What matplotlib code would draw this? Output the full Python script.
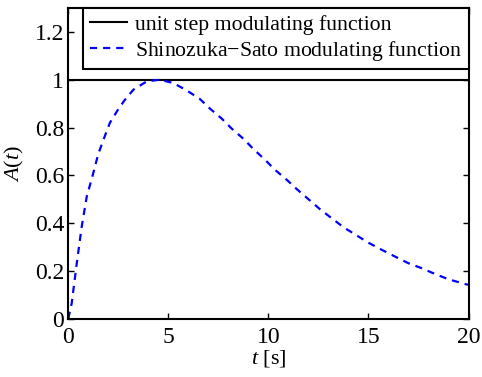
import numpy as np
import matplotlib
matplotlib.use("Agg")
import matplotlib.pyplot as plt
from matplotlib.ticker import FuncFormatter

plt.rcParams['font.family'] = ['Liberation Serif', 'DejaVu Serif']
plt.rcParams['mathtext.fontset'] = 'custom'
plt.rcParams['mathtext.rm'] = 'Liberation Serif'
plt.rcParams['mathtext.it'] = 'Liberation Serif:italic'

# unit step modulating function
t_step = [0, 20]
a_step = [1, 1]

# Shinozuka-Sato modulating function
t_ss = [0.0, 0.17, 0.42, 0.67, 0.92, 1.25, 1.5, 1.83, 2.08, 2.5, 2.83, 3.25,
        3.92, 4.58, 5.25, 5.92, 6.58, 7.08, 7.67, 8.17, 8.75, 9.25, 9.83,
        10.33, 10.92, 11.42, 12.0, 12.58, 13.17, 13.75, 14.42, 15.0, 15.67,
        16.33, 17.0, 17.67, 18.33, 19.0, 19.83, 20.0]
a_ss = [0.0, 0.065, 0.23, 0.385, 0.51, 0.61, 0.69, 0.765, 0.82, 0.877, 0.916,
        0.958, 0.993, 1.0, 0.986, 0.955, 0.919, 0.879, 0.837, 0.795, 0.753,
        0.71, 0.665, 0.623, 0.581, 0.542, 0.5, 0.458, 0.42, 0.383, 0.348,
        0.318, 0.288, 0.26, 0.232, 0.211, 0.187, 0.165, 0.145, 0.142]

xticks = [0, 5, 10, 15, 20]
yticks = [0, 0.2, 0.4, 0.6, 0.8, 1, 1.2]

fig = plt.figure(figsize=(4.82, 3.77), dpi=100)
ax = fig.add_axes([0.1417, 0.1546, 0.8303, 0.8242])

ax.plot(t_step, a_step, color='black', lw=1.5, label='unit step modulating function')
ax.plot(t_ss, a_ss, color='blue', lw=1.6, dashes=(3.2, 2.7),
        label='Shinozuka$-$Sato modulating function')

ax.set_xlim(0, 20)
ax.set_ylim(0, 1.3)
ax.set_xticks(xticks)
ax.set_yticks(yticks)
ax.yaxis.set_major_formatter(FuncFormatter(lambda v, p: '%g' % v))
ax.tick_params(direction='in', length=4, width=1, top=True, right=True,
               labelsize=17)
ax.tick_params(axis='x', pad=6)
ax.tick_params(axis='y', pad=3)
for s in ax.spines.values():
    s.set_linewidth(1.5)

ax.set_xlabel('$t$ [s]', fontsize=16, labelpad=0)
ax.set_ylabel('$A(t)$', fontsize=16, labelpad=6)

leg = ax.legend(loc='upper right', borderaxespad=0, fancybox=False,
                edgecolor='black', framealpha=1, fontsize=15.7,
                handlelength=1.72, handletextpad=0.35, borderpad=0.3,
                labelspacing=0.18)
leg.get_frame().set_linewidth(1.5)

fig.savefig('out.png', dpi=100)
